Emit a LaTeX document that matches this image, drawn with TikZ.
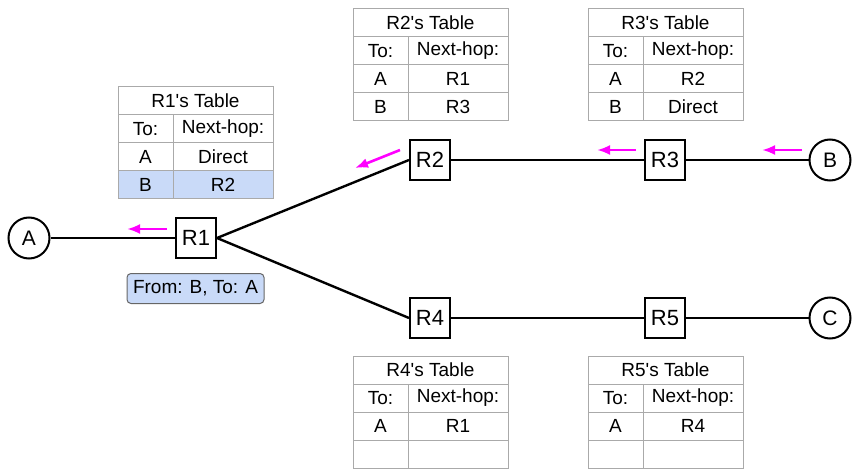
\documentclass[tikz,border=0pt]{standalone}
\usepackage{fontspec}
\setmainfont{Liberation Sans}
\usetikzlibrary{arrows.meta}
\definecolor{gridgrey}{HTML}{AAAAAA}
\definecolor{hlblue}{HTML}{C9DAF8}
\definecolor{pinkarrow}{HTML}{FF00FF}
\tikzset{
  router/.style={draw=black, line width=2pt, minimum width=40pt, minimum height=40pt, inner sep=0pt, font=\fontsize{22}{25}\selectfont},
  host/.style={draw=black, line width=2pt, circle, minimum size=41pt, inner sep=0pt, font=\fontsize{21}{24}\selectfont},
  link/.style={line width=2.4pt, black},
  flow/.style={pinkarrow, line width=2.6pt, -{Latex[length=13pt,width=10pt]}},
  tableline/.style={draw=gridgrey, line width=1pt},
  celltext/.style={font=\fontsize{19}{22}\selectfont, inner sep=0pt},
  packet/.style={draw=black!60, fill=hlblue, rounded corners=4pt, line width=1pt, minimum width=137pt, minimum height=30pt, inner sep=0pt, font=\fontsize{19}{22}\selectfont}
}
% #1 name prefix, #2 left x, #3 top y, #4 title, #5 row3 to, #6 row3 hop, #7 row4 to, #8 row4 hop
\newcommand{\routetable}[8]{%
  \draw[tableline] (#2,#3) rectangle ++(155,112);
  \draw[tableline] (#2,#3+28) -- ++(155,0);
  \draw[tableline] (#2,#3+56) -- ++(155,0);
  \draw[tableline] (#2,#3+84) -- ++(155,0);
  \draw[tableline] (#2+55,#3+28) -- ++(0,84);
  \node[celltext] (#1title) at (#2+77.5,#3+14) {#4};
  \node[celltext] (#1to) at (#2+27.5,#3+42) {To:};
  \node[celltext] (#1hop) at (#2+105,#3+42) {Next-hop:};
  \node[celltext] (#1ra) at (#2+27.5,#3+70) {#5};
  \node[celltext] (#1rb) at (#2+105,#3+70) {#6};
  \node[celltext] (#1rc) at (#2+27.5,#3+98) {#7};
  \node[celltext] (#1rd) at (#2+105,#3+98) {#8};
}
\begin{document}
\begin{tikzpicture}[x=1pt,y=-1pt]
\useasboundingbox (0,0) rectangle (863,476);
% nodes
\node[host] (A) at (29,238) {A};
\node[router] (R1) at (196,238) {R1};
\node[router] (R2) at (430,160) {R2};
\node[router] (R3) at (665,160) {R3};
\node[host] (B) at (830,160) {B};
\node[router] (R4) at (430,318) {R4};
\node[router] (R5) at (665,318) {R5};
\node[host] (C) at (830,318) {C};
% links
\draw[link] (A) -- (R1);
\draw[link] (R1.east) -- (R2.west);
\draw[link] (R1.east) -- (R4.west);
\draw[link] (R2) -- (R3);
\draw[link] (R3) -- (B);
\draw[link] (R4) -- (R5);
\draw[link] (R5) -- (C);
% flow arrows
\coordinate (f1s) at (167,229); \coordinate (f1e) at (127,229);
\coordinate (f2s) at (400,150); \coordinate (f2e) at (355,168);
\coordinate (f3s) at (636,150); \coordinate (f3e) at (597,150);
\coordinate (f4s) at (802,150); \coordinate (f4e) at (762,150);
\draw[flow] (f1s) -- (f1e);
\draw[flow] (f2s) -- (f2e);
\draw[flow] (f3s) -- (f3e);
\draw[flow] (f4s) -- (f4e);
% tables
\fill[hlblue] (118,171) rectangle (273,199);
\routetable{ta}{118}{87}{R1\textquotesingle s Table}{A}{Direct}{B}{R2}
\routetable{tb}{353}{9}{R2\textquotesingle s Table}{A}{R1}{B}{R3}
\routetable{tc}{588}{9}{R3\textquotesingle s Table}{A}{R2}{B}{Direct}
\routetable{td}{353}{356}{R4\textquotesingle s Table}{A}{R1}{}{}
\routetable{te}{588}{356}{R5\textquotesingle s Table}{A}{R4}{}{}
% packet label
\node[packet] (pkt) at (195.5,288.5) {From: B, To: A};
\end{tikzpicture}
\end{document}
